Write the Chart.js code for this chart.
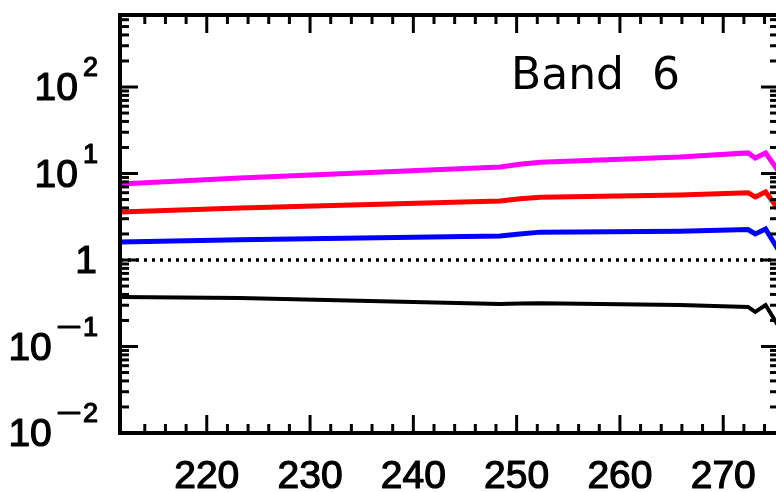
<!DOCTYPE html>
<html>
<head>
<meta charset="utf-8">
<script src="https://cdn.jsdelivr.net/npm/chart.js@4.4.1/dist/chart.umd.min.js"></script>
<style>
  html, body { margin: 0; padding: 0; background: #fff; }
  #wrap { width: 776px; height: 492px; overflow: hidden; }
</style>
</head>
<body>
<div id="wrap"><canvas id="bandChart" width="790" height="492"></canvas></div>
<script>
'use strict';

// Band 6 ratio curves
const wavelength = [211.6, 223.2, 248.4, 250.3, 252.3, 265.8, 272.4, 273.1, 274.1, 275.4];
const magentaSeries = [7.57, 8.87, 11.9, 12.8, 13.5, 15.5, 17.3, 15.1, 17.3, 10.4];
const redSeries = [3.59, 3.99, 4.81, 5.1, 5.3, 5.64, 6.0, 5.35, 6.11, 3.79];
const blueSeries = [1.61, 1.72, 1.89, 2.0, 2.1, 2.15, 2.25, 2.0, 2.28, 1.27];
const blackSeries = [0.373, 0.364, 0.31, 0.315, 0.317, 0.302, 0.287, 0.251, 0.302, 0.168];
const unityLevel = [1, 1];

const xTickLabels = [220, 230, 240, 250, 260, 270];
const yTickExponents = [-2, -1, 0, 1, 2];
const bandTitle = 'Band  6';

const xMin = 211.6, xMax = 275.4;
const yMin = 0.01, yMax = 680;

const toPoints = (vals) => vals.map((v, i) => ({ x: wavelength[i], y: v }));

// text drawn with a thin outline so it reads a bit heavier
const boldText = (ctx, s, px, py) => {
  ctx.fillText(s, px, py);
  ctx.strokeText(s, px, py);
};

// Boxed axes with inward ticks, superscript log labels and the band title
const idlFrame = {
  id: 'idlFrame',
  afterDatasetsDraw(chart) {
    const { ctx, chartArea: a, scales: { x, y } } = chart;
    const seg = (x1, y1, x2, y2) => {
      ctx.beginPath();
      ctx.moveTo(x1, y1);
      ctx.lineTo(x2, y2);
      ctx.stroke();
    };
    ctx.save();
    ctx.strokeStyle = '#000';
    ctx.fillStyle = '#000';

    ctx.lineWidth = 4;
    ctx.strokeRect(a.left, a.top, a.right - a.left, a.bottom - a.top);

    // x ticks, minor every 2
    ctx.lineWidth = 3;
    for (let v = 212; v <= 276; v += 2) {
      const px = x.getPixelForValue(v);
      if (px < a.left + 6 || px > a.right - 6) continue;
      const len = v % 10 === 0 ? 18 : 9;
      seg(px, a.bottom, px, a.bottom - len);
      seg(px, a.top, px, a.top + len);
    }

    // y ticks, log decades
    for (let k = -2; k <= 2; k++) {
      for (let m = 1; m <= 9; m++) {
        const v = m * Math.pow(10, k);
        if (v > yMax) break;
        const py = y.getPixelForValue(v);
        if (py < a.top + 3) continue;
        const len = m === 1 ? 18 : 9;
        seg(a.left, py, a.left + len, py);
        seg(a.right, py, a.right - len, py);
      }
    }

    ctx.lineWidth = 1.2;
    ctx.lineJoin = 'round';

    // x tick labels
    ctx.font = '39px "Liberation Sans", Arial, sans-serif';
    ctx.textAlign = 'center';
    ctx.textBaseline = 'alphabetic';
    xTickLabels.forEach((t) => {
      boldText(ctx, String(t), x.getPixelForValue(t), 488);
    });

    // y tick labels: 10 with superscript exponent
    const right = 98;
    yTickExponents.forEach((k) => {
      const py = y.getPixelForValue(Math.pow(10, k));
      ctx.textAlign = 'right';
      if (k === 0) {
        ctx.font = '39px "Liberation Sans", Arial, sans-serif';
        boldText(ctx, '1', right - 1, py + 13);
        return;
      }
      ctx.font = '27px "Liberation Sans", Arial, sans-serif';
      const digits = String(Math.abs(k));
      const dW = ctx.measureText(digits).width;
      boldText(ctx, digits, right, py - 11);
      let supW = dW;
      if (k < 0) {
        const minusW = ctx.measureText('\u2212').width;
        ctx.save();
        ctx.translate(right - dW - 1, py - 11);
        ctx.scale(1.6, 1);
        boldText(ctx, '\u2212', 0, 0);
        ctx.restore();
        supW += minusW * 1.6 + 1;
      }
      ctx.font = '39px "Liberation Sans", Arial, sans-serif';
      boldText(ctx, '10', right - supW - 5, py + 13);
    });

    // band title
    ctx.font = '44px "DejaVu Sans", sans-serif';
    ctx.textAlign = 'left';
    ctx.fillText(bandTitle, 511, 89);
    ctx.restore();
  }
};

const lineStyle = (color, width) => ({
  borderColor: color,
  backgroundColor: color,
  borderWidth: width,
  pointRadius: 0,
  tension: 0,
  fill: false
});

new Chart(document.getElementById('bandChart'), {
  type: 'line',
  data: {
    datasets: [
      { data: toPoints(magentaSeries), ...lineStyle('#ff00ff', 5) },
      { data: toPoints(redSeries), ...lineStyle('#ff0000', 5) },
      { data: toPoints(blueSeries), ...lineStyle('#0000ff', 5) },
      { data: toPoints(blackSeries), ...lineStyle('#000000', 4) },
      {
        data: [{ x: xMin, y: unityLevel[0] }, { x: xMax, y: unityLevel[1] }],
        ...lineStyle('#000000', 3.5),
        borderDash: [3, 5]
      }
    ]
  },
  options: {
    responsive: false,
    animation: false,
    layout: { padding: { left: 120, top: 15, right: 11, bottom: 59 } },
    plugins: {
      legend: { display: false },
      tooltip: { enabled: false }
    },
    scales: {
      x: { type: 'linear', min: xMin, max: xMax, display: false },
      y: { type: 'logarithmic', min: yMin, max: yMax, display: false }
    }
  },
  plugins: [idlFrame]
});
</script>
</body>
</html>
